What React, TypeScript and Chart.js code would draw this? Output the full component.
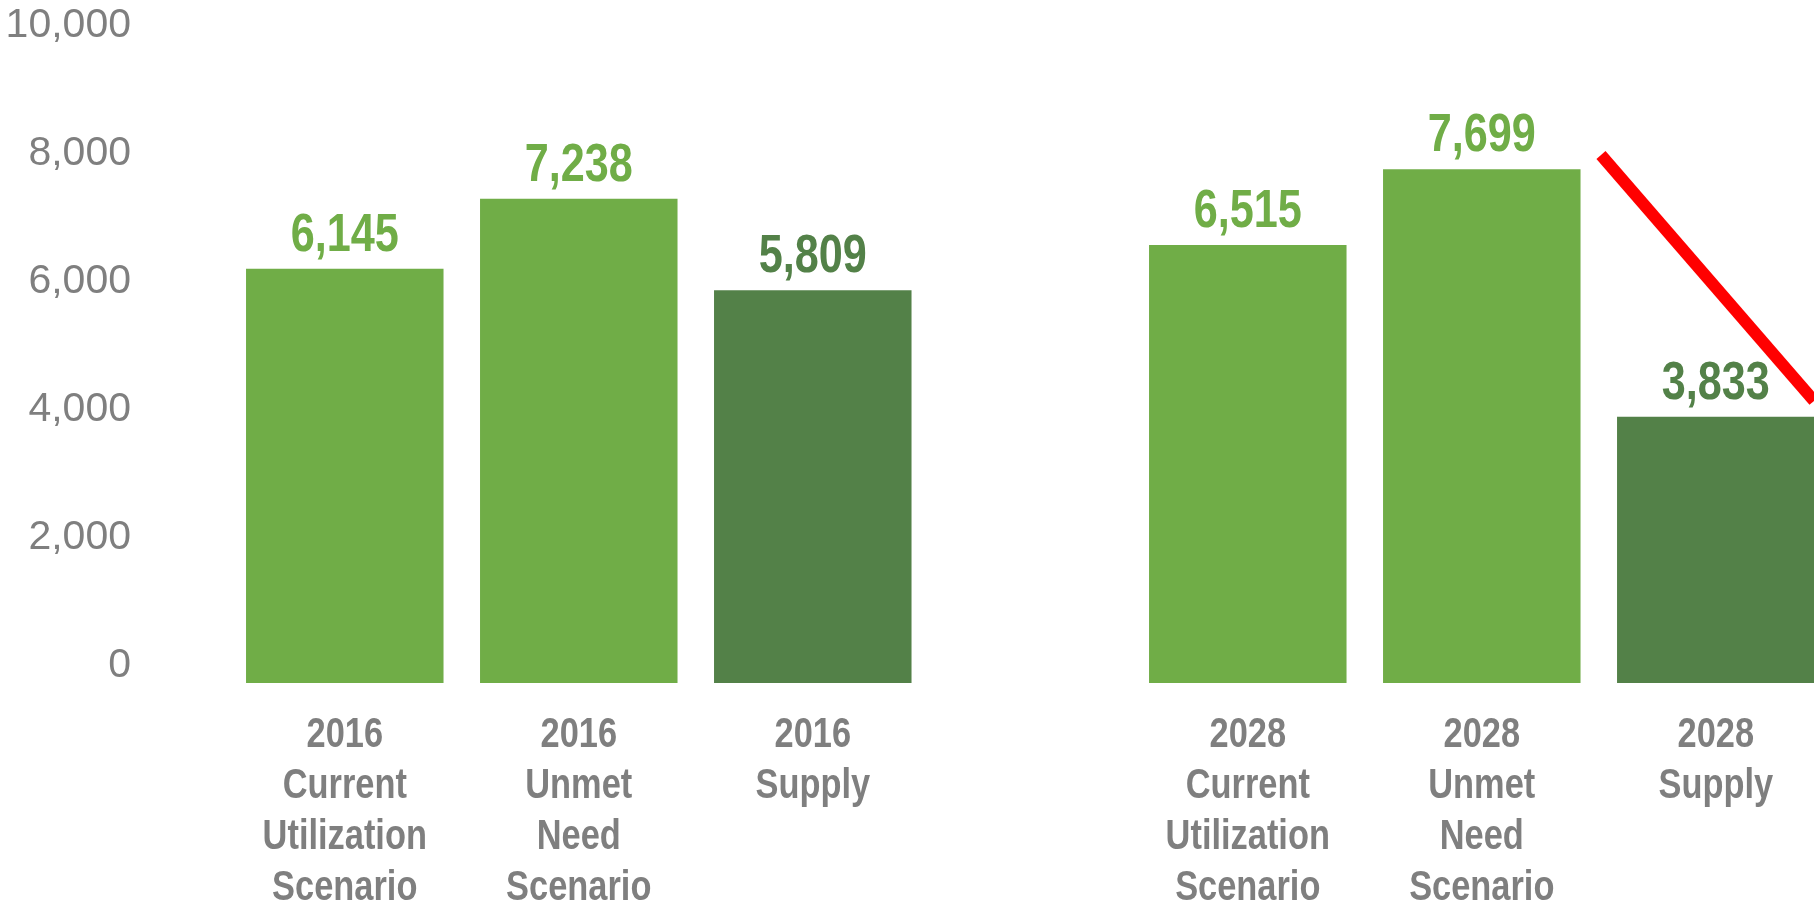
import { useEffect, useRef } from 'react';
import { Chart, registerables } from 'chart.js';

Chart.register(...registerables);

const categories = ['2016', '2028'];
const seriesNames = ['Current Utilization Scenario', 'Unmet Need Scenario', 'Supply'];
const currentUtilization = [6145, 6515];
const unmetNeed = [7238, 7699];
const supply = [5809, 3833];
const yTickValues = [0, 2000, 4000, 6000, 8000, 10000];
const trendLineX = [1.132, 1.3679];
const trendLineY = [7922, 4080];

const LIGHT = '#70AD47';
const DARK = '#538148';
const GRAY = '#7F7F7F';
const BOLD = '"Liberation Sans", Arial, sans-serif';
const REGULAR = '"Liberation Sans", Arial, sans-serif';
const NARROW_SCALE = 0.8;

const Y_MIN = -328;

function drawNarrow(ctx: CanvasRenderingContext2D, text: string, x: number, y: number) {
  ctx.save();
  ctx.translate(x, y);
  ctx.scale(NARROW_SCALE, 1);
  ctx.fillText(text, 0, 0);
  ctx.restore();
}

const labelPlugin = {
  id: 'barLabels',
  afterDatasetsDraw(chart: any) {
    const ctx: CanvasRenderingContext2D = chart.ctx;
    chart.data.datasets.forEach((ds: any, di: number) => {
      if (ds.type !== 'bar') return;
      const meta = chart.getDatasetMeta(di);
      meta.data.forEach((el: any, i: number) => {
        const v = ds.data[i].y;
        ctx.save();
        ctx.textAlign = 'center';
        ctx.textBaseline = 'alphabetic';
        ctx.fillStyle = ds.backgroundColor;
        ctx.font = `bold 54px ${BOLD}`;
        drawNarrow(ctx, Number(v).toLocaleString('en-US'), el.x, el.y - 18);
        ctx.fillStyle = GRAY;
        ctx.font = `bold 43px ${BOLD}`;
        const lines = [categories[i], ...seriesNames[di].split(' ')];
        lines.forEach((t, k) => {
          drawNarrow(ctx, t, el.x, chart.chartArea.bottom + 64 + k * 51);
        });
        ctx.restore();
      });
    });
  },
};

export default function App() {
  const ref = useRef<HTMLCanvasElement | null>(null);

  useEffect(() => {
    document.body.style.margin = '0';
    document.body.style.overflow = 'hidden';
    const canvas = ref.current;
    if (!canvas) return;
    const toPts = (arr: number[]) => arr.map((v, i) => ({ x: i, y: v }));
    const chart = new Chart(canvas, {
      type: 'bar',
      data: {
        datasets: [
          {
            type: 'bar',
            label: seriesNames[0],
            data: toPts(currentUtilization),
            backgroundColor: LIGHT,
            base: Y_MIN,
            order: 1,
          } as any,
          {
            type: 'bar',
            label: seriesNames[1],
            data: toPts(unmetNeed),
            backgroundColor: LIGHT,
            base: Y_MIN,
            order: 1,
          } as any,
          {
            type: 'bar',
            label: seriesNames[2],
            data: toPts(supply),
            backgroundColor: DARK,
            base: Y_MIN,
            order: 1,
          } as any,
          {
            type: 'line',
            label: 'trend',
            data: trendLineX.map((x, i) => ({ x, y: trendLineY[i] })),
            borderColor: '#FF0000',
            borderWidth: 12,
            borderCapStyle: 'butt',
            pointRadius: 0,
            fill: false,
            order: 0,
          } as any,
        ],
      },
      options: {
        responsive: false,
        animation: false,
        devicePixelRatio: 1,
        layout: { padding: { top: 22, left: 6, right: 0, bottom: 223 } },
        datasets: {
          bar: { categoryPercentage: 0.7774, barPercentage: 0.844 },
        } as any,
        plugins: {
          legend: { display: false },
          tooltip: { enabled: false },
        },
        scales: {
          x: {
            type: 'linear',
            display: false,
            offset: false,
            min: -0.4848,
            max: 1.3679,
            grid: { offset: false },
            afterBuildTicks: (ax: any) => {
              ax.ticks = categories.map((_, i) => ({ value: i }));
            },
          },
          y: {
            type: 'linear',
            min: Y_MIN,
            max: 10000,
            afterBuildTicks: (ax: any) => {
              ax.ticks = yTickValues.map((v) => ({ value: v }));
            },
            afterFit: (ax: any) => {
              ax.width = 135;
              ax.paddingTop = 0;
              ax.paddingBottom = 0;
            },
            grid: { display: false, drawTicks: false },
            border: { display: false },
            ticks: {
              color: GRAY,
              padding: 10,
              labelOffset: 3.5,
              font: { family: REGULAR, size: 41, lineHeight: 1 },
              callback: (v: any) => Number(v).toLocaleString('en-US'),
            },
          },
        },
      } as any,
      plugins: [labelPlugin],
    });
    return () => chart.destroy();
  }, []);

  return (
    <canvas
      ref={ref}
      width={1814}
      height={906}
      style={{ display: 'block', width: '1814px', height: '906px' }}
    />
  );
}
